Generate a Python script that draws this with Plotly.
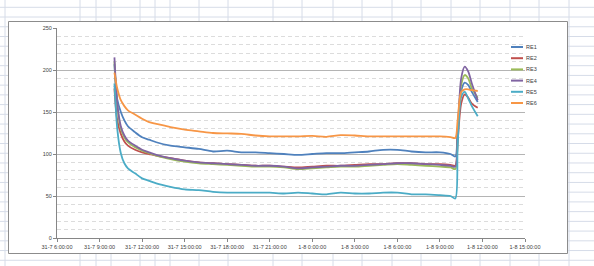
import plotly.graph_objects as go

# ---------------- data ----------------
times = [
    "2019-07-31 10:03", "2019-07-31 10:15", "2019-07-31 10:30", "2019-07-31 10:45",
    "2019-07-31 11:00", "2019-07-31 11:30", "2019-07-31 12:00", "2019-07-31 12:30",
    "2019-07-31 13:00", "2019-07-31 14:00", "2019-07-31 15:00", "2019-07-31 16:00",
    "2019-07-31 17:00", "2019-07-31 18:00", "2019-07-31 19:00", "2019-07-31 20:00",
    "2019-07-31 21:00", "2019-07-31 22:00", "2019-07-31 23:00", "2019-08-01 00:00",
    "2019-08-01 01:00", "2019-08-01 02:00", "2019-08-01 03:00", "2019-08-01 04:00",
    "2019-08-01 05:00", "2019-08-01 06:00", "2019-08-01 07:00", "2019-08-01 08:00",
    "2019-08-01 09:00", "2019-08-01 09:45", "2019-08-01 10:05", "2019-08-01 10:15",
    "2019-08-01 10:30", "2019-08-01 10:45", "2019-08-01 11:00", "2019-08-01 11:15",
    "2019-08-01 11:40",
]

re1 = [207, 165, 150, 140, 133, 126, 120, 117, 114, 110, 108, 106, 103, 104, 102, 102,
       101, 100, 99, 100, 101, 101, 102, 103, 105, 105, 103, 102, 102, 100, 97, 130,
       175, 185, 182, 174, 162]
re2 = [178, 140, 124, 115, 110, 105, 102, 100, 98, 95, 92, 90, 89, 88, 87, 86,
       86, 85, 84, 85, 86, 86, 87, 88, 88, 89, 89, 88, 88, 87, 86, 115,
       160, 171, 167, 160, 155]
re3 = [210, 158, 130, 120, 114, 108, 104, 101, 98, 94, 91, 89, 88, 87, 86, 85,
       85, 84, 82, 83, 84, 85, 85, 86, 87, 88, 87, 86, 85, 84, 82, 120,
       182, 194, 190, 178, 167]
re4 = [215, 160, 133, 122, 116, 110, 105, 102, 99, 95, 92, 90, 89, 88, 87, 86,
       86, 85, 83, 84, 85, 86, 86, 87, 88, 89, 89, 88, 87, 86, 85, 125,
       190, 204, 198, 184, 164]
re5 = [184, 130, 101, 89, 83, 77, 71, 68, 65, 61, 58, 57, 55, 54, 54, 54,
       54, 53, 54, 53, 52, 54, 53, 53, 54, 54, 52, 52, 51, 50, 47, 110,
       168, 174, 166, 157, 145]
re6 = [197, 178, 164, 157, 152, 147, 142, 138, 136, 132, 129, 127, 125, 124.5, 124, 122,
       121, 121, 121, 121.5, 120.5, 122.5, 122, 121, 121, 121, 121, 121, 121, 120, 119, 140,
       174, 177, 177, 176, 175]

series_names = ["RE1", "RE2", "RE3", "RE4", "RE5", "RE6"]
series_values = [re1, re2, re3, re4, re5, re6]
series_colors = ["#4F81BD", "#C0504D", "#9BBB59", "#8064A2", "#4BACC6", "#F79646"]

x_tick_values = [
    "2019-07-31 06:00", "2019-07-31 09:00", "2019-07-31 12:00", "2019-07-31 15:00",
    "2019-07-31 18:00", "2019-07-31 21:00", "2019-08-01 00:00", "2019-08-01 03:00",
    "2019-08-01 06:00", "2019-08-01 09:00", "2019-08-01 12:00", "2019-08-01 15:00",
]
x_tick_labels = [
    "31-7 6:00:00", "31-7 9:00:00", "31-7 12:00:00", "31-7 15:00:00",
    "31-7 18:00:00", "31-7 21:00:00", "1-8 0:00:00", "1-8 3:00:00",
    "1-8 6:00:00", "1-8 9:00:00", "1-8 12:00:00", "1-8 15:00:00",
]
y_tick_values = [0, 50, 100, 150, 200, 250]

# ---------------- layout geometry ----------------
W, H = 594, 266
ML, MR, MT, MB = 57, 69, 28, 28
PW, PH = W - ML - MR, H - MT - MB


def px(xp):
    return (xp - ML) / PW


def py(yp):
    return (H - MB - yp) / PH


fig = go.Figure()
for name, vals, col in zip(series_names, series_values, series_colors):
    fig.add_trace(go.Scatter(
        x=times, y=vals, name=name, mode="lines",
        line=dict(color=col, width=1.8, shape="spline", smoothing=0.8),
        showlegend=False, hoverinfo="skip",
    ))

shapes = []
cell_col = "#d6dce8"
# spreadsheet cell grid (background)
col_lines = [5, 80, 96, 111, 140, 155, 170, 199, 228, 273, 302, 333, 362, 392,
             421, 451, 480, 510, 539, 569]
for cx in col_lines:
    shapes.append(dict(type="line", xref="paper", yref="paper",
                       x0=px(cx), x1=px(cx), y0=py(0), y1=py(H),
                       line=dict(color=cell_col, width=1), layer="below"))
for k in range(27):
    ry = 7.3 + 9.73 * k
    shapes.append(dict(type="line", xref="paper", yref="paper",
                       x0=px(0), x1=px(W), y0=py(ry), y1=py(ry),
                       line=dict(color=cell_col, width=1), layer="below"))
# chart box
shapes.append(dict(type="rect", xref="paper", yref="paper",
                   x0=px(8.5), x1=px(567.5), y0=py(253.5), y1=py(21.5),
                   fillcolor="white", line=dict(color="#8c8c8c", width=1),
                   layer="below"))

# custom legend
annotations = []
leg_y0 = 47
for i, (name, col) in enumerate(zip(series_names, series_colors)):
    ly = leg_y0 + i * 11.2
    shapes.append(dict(type="line", xref="paper", yref="paper",
                       x0=px(511), x1=px(523), y0=py(ly), y1=py(ly),
                       line=dict(color=col, width=2)))
    annotations.append(dict(x=px(524), y=py(ly), xref="paper", yref="paper",
                            text=name, showarrow=False, xanchor="left",
                            yanchor="middle",
                            font=dict(size=5.5, color="#404040",
                                      family="Liberation Sans")))

fig.update_layout(
    width=W, height=H,
    margin=dict(l=ML, r=MR, t=MT, b=MB, pad=0),
    paper_bgcolor="white",
    plot_bgcolor="white",
    shapes=shapes,
    annotations=annotations,
    font=dict(family="Liberation Sans", size=5.5, color="#404040"),
    hovermode=False,
)
fig.update_xaxes(
    type="date",
    range=["2019-07-31 06:00", "2019-08-01 15:00"],
    tickvals=x_tick_values, ticktext=x_tick_labels,
    showgrid=False, zeroline=False,
    showline=True, linecolor="#868686", linewidth=1,
    ticks="outside", ticklen=3, tickcolor="#868686",
    tickfont=dict(size=5.5, color="#404040"),
    tickangle=0,
)
fig.update_yaxes(
    range=[0, 250],
    tickvals=y_tick_values,
    showgrid=True, gridcolor="#b4b4b4", gridwidth=1,
    zeroline=False,
    showline=True, linecolor="#868686", linewidth=1,
    ticks="outside", ticklen=3, tickcolor="#868686",
    tickfont=dict(size=5.5, color="#404040"),
    minor=dict(dtick=10, tick0=0, showgrid=True, gridcolor="#dcdcdc",
               griddash="4px,3px", gridwidth=1),
)

fig.write_html(
    "out.html",
    config={"displayModeBar": False},
    post_script="document.body.style.margin='0px';"
                "document.body.style.overflow='hidden';",
)
